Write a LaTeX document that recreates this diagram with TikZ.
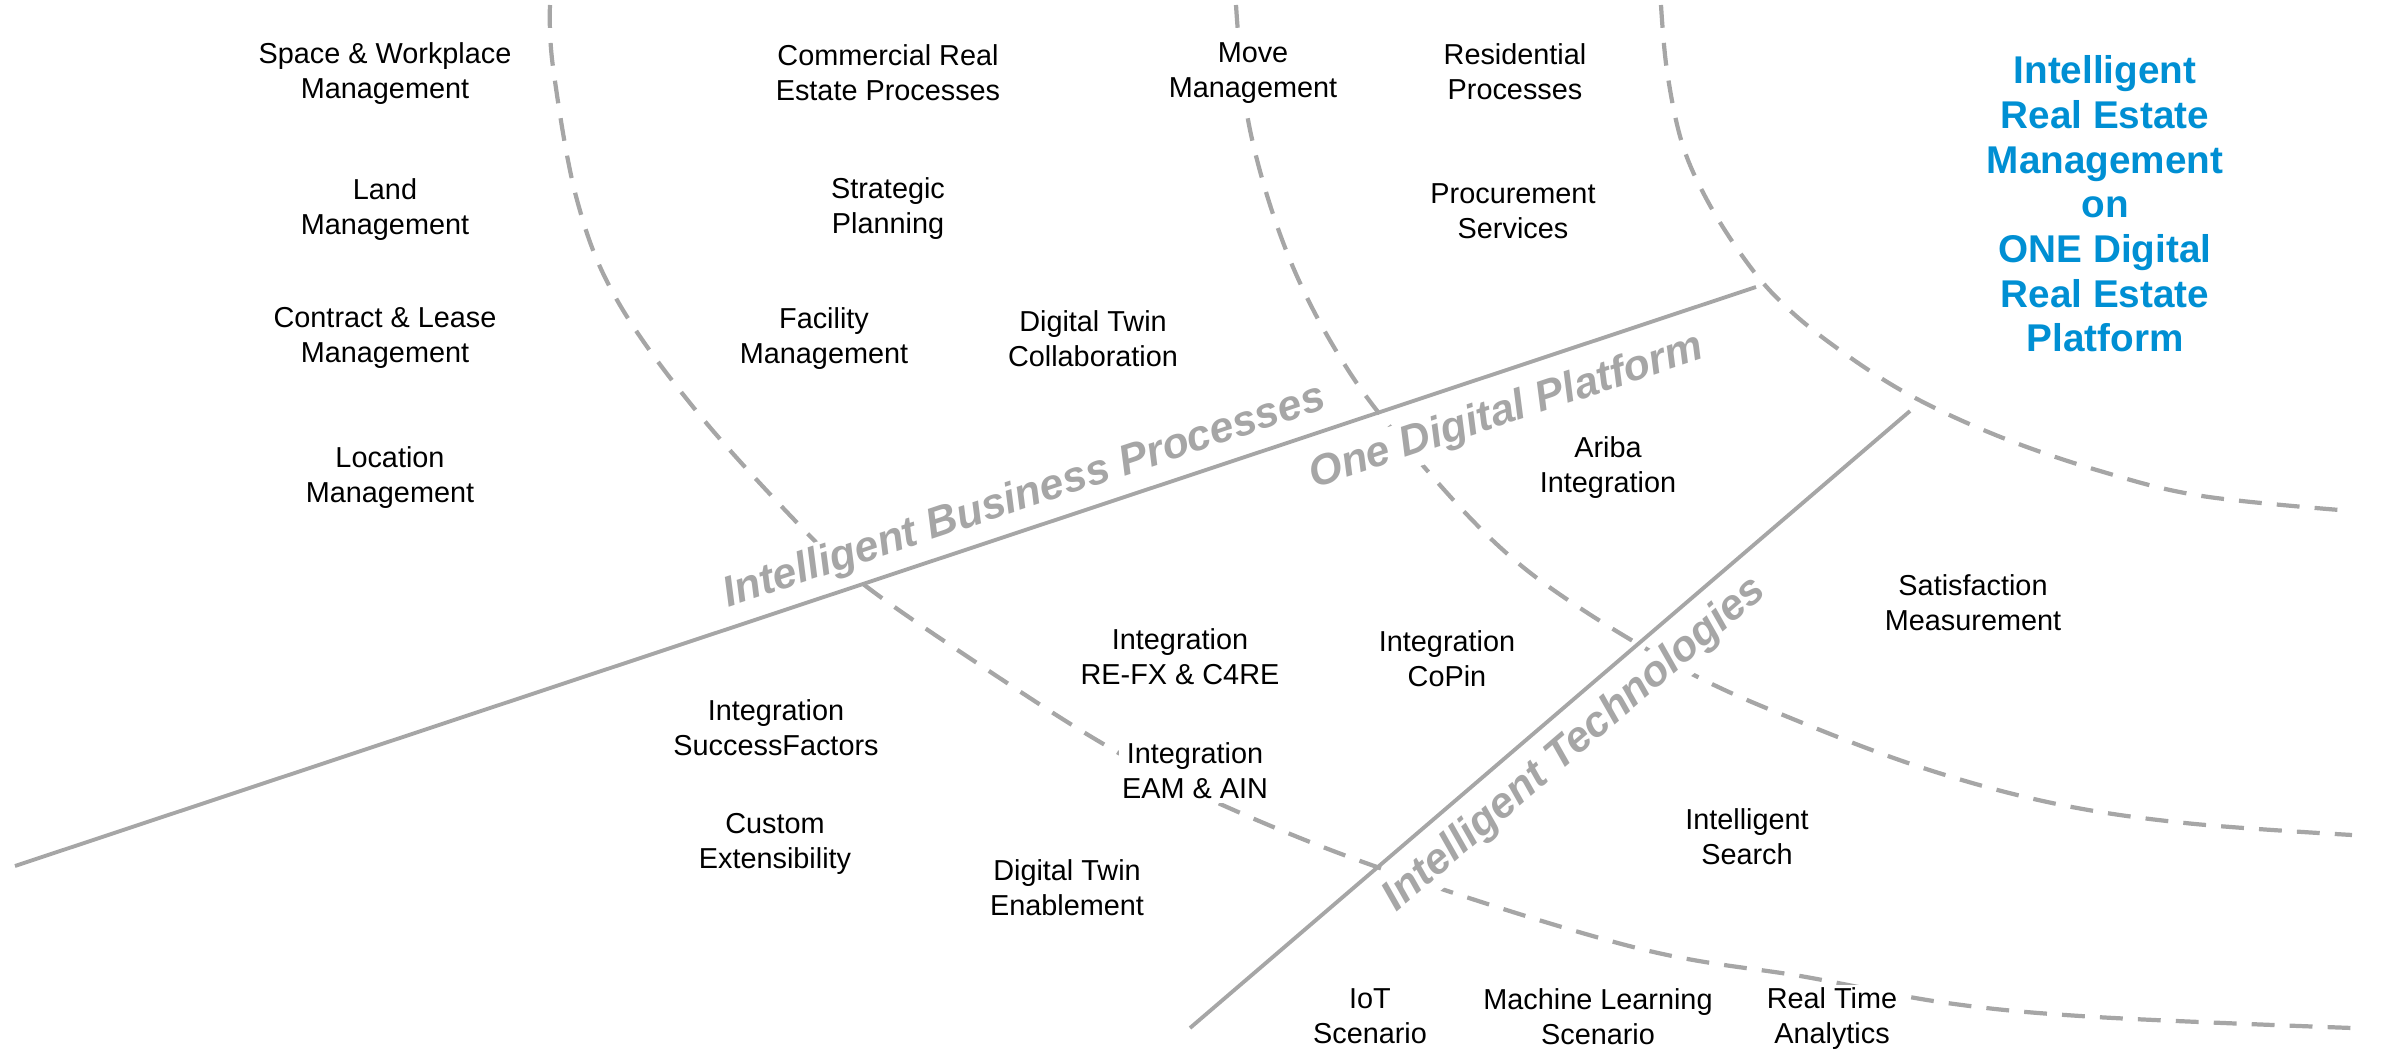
\documentclass[tikz,border=0pt]{standalone}
\usepackage{fontspec}
\setmainfont{Liberation Sans}
\definecolor{linegray}{HTML}{A6A6A6}
\definecolor{sapblue}{HTML}{008FD3}
\begin{document}
\begin{tikzpicture}[x=0.01cm, y=-0.01cm,
  item/.style={align=center, fill=white, inner sep=1pt, font=\fontsize{8.2}{9.96}\selectfont, text=black},
  axislabel/.style={fill=white, inner sep=1pt, font=\fontsize{12.2}{14}\selectfont\bfseries\itshape, text=linegray, anchor=base},
  titletext/.style={align=center, font=\fontsize{11}{12.7}\selectfont\bfseries, text=sapblue},
  ring/.style={draw=linegray, line width=1.2pt, dash pattern=on 6.5pt off 4.3pt},
  axis/.style={draw=linegray, line width=1.1pt}]

\useasboundingbox (0,0) rectangle (2390,1049);

% dashed rings
\draw[ring] plot[smooth, tension=0.6] coordinates {(550,5) (553,67) (577,200) (617,300) (698,413) (807,533) (867,587) (983,667) (1100,742) (1200,795) (1377,867) (1633,947) (1806,977) (1947,1003) (2096,1017) (2352,1028)};
\draw[ring] plot[smooth, tension=0.6] coordinates {(1236,5) (1250,130) (1290,260) (1350,373) (1425,468) (1503,550) (1583,610) (1690,673) (1788,717) (1920,767) (2052,803) (2185,823) (2352,835)};
\draw[ring] plot[smooth, tension=0.6] coordinates {(1661,5) (1667,71) (1682,143) (1707,200) (1743,257) (1779,300) (1830,343) (1906,393) (1998,436) (2100,471) (2202,496) (2352,511)};

% axis coordinates
\coordinate (A1) at (15,866);
\coordinate (A2) at (1756,287);
\coordinate (B1) at (1190,1028);
\coordinate (B2) at (1910,411);

% axis labels
\node[axislabel, rotate=18.39] (ibp) at (1028,508) {Intelligent Business Processes};
\node[axislabel, rotate=18.39] (odp) at (1510,423) {One Digital Platform};
\node[axislabel, rotate=40.6] (itec) at (1582,753) {Intelligent Technologies};

% items
\node[item] (swm) at (385,74) {Space \& Workplace\\Management};
\node[item] (lm) at (385,210) {Land\\Management};
\node[item] (clm) at (385,338) {Contract \& Lease\\Management};
\node[item] (locm) at (390,478) {Location\\Management};
\node[item] (crep) at (888,73) {Commercial Real\\Estate Processes};
\node[item] (sp) at (888,209) {Strategic\\Planning};
\node[item] (fm) at (824,339) {Facility\\Management};
\node[item] (dtc) at (1093,339) {Digital Twin\\Collaboration};
\node[item] (mm) at (1253,73) {Move\\Management};
\node[item] (rp) at (1515,72) {Residential\\Processes};
\node[item] (ps) at (1513,211) {Procurement\\Services};
\node[item] (ai) at (1608,468) {Ariba\\Integration};
\node[item] (sm) at (1973,603) {Satisfaction\\Measurement};
\node[item] (irefx) at (1180,657) {Integration\\RE-FX \& C4RE};
\node[item] (icopin) at (1447,659) {Integration\\CoPin};
\node[item] (isf) at (776,728) {Integration\\SuccessFactors};
\node[item] (ieam) at (1195,771) {Integration\\EAM \& AIN};
\node[item] (ce) at (775,844) {Custom\\Extensibility};
\node[item] (dte) at (1067,888) {Digital Twin\\Enablement};
\node[item] (is) at (1747,837) {Intelligent\\Search};
\node[item] (iot) at (1370,1016) {IoT\\Scenario};
\node[item] (ml) at (1598,1017) {Machine Learning\\Scenario};
\node[item] (rta) at (1832,1019) {Real Time\\Analytics};

% title
\node[titletext] (title) at (2105,204) {Intelligent\\Real Estate\\Management\\on\\ONE Digital\\Real Estate\\Platform};

% axes
\draw[axis] (A1) -- (A2);
\draw[axis] (B1) -- (B2);
\end{tikzpicture}
\end{document}
